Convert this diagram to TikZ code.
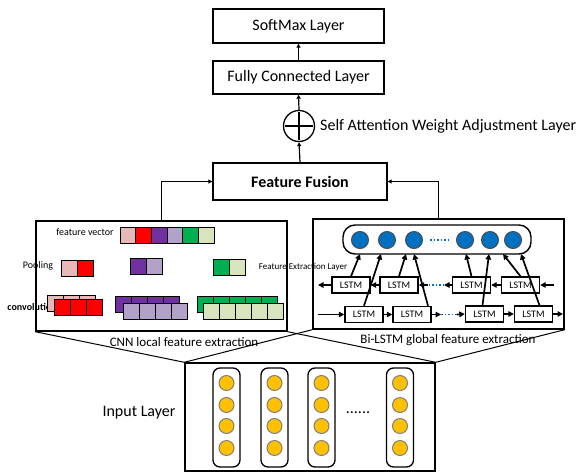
\documentclass[tikz,border=0pt]{standalone}
\usepackage{fontspec}
\setmainfont{Carlito}
\usetikzlibrary{arrows.meta}
\definecolor{cpink}{HTML}{E6B9B8}
\definecolor{cred}{HTML}{FF0000}
\definecolor{cpurple}{HTML}{7030A0}
\definecolor{clpurple}{HTML}{B3A2C7}
\definecolor{cgreen}{HTML}{00B050}
\definecolor{clgreen}{HTML}{D7E4BD}
\definecolor{cblue}{HTML}{0070C0}
\definecolor{corange}{HTML}{FFC000}
\begin{document}
\begin{tikzpicture}[x=1pt,y=-1pt,
  lbl/.style={font=\fontsize{16}{18}\selectfont},
  bigbox/.style={draw, line width=1.4pt, inner sep=0pt, lbl},
  arr/.style={line width=1.2pt, -{Triangle[length=4pt,width=4pt]}},
  larr/.style={line width=1.7pt, -{Triangle[length=5.5pt,width=5.5pt]}},
  cell/.style={draw, line width=1pt},
  lstm/.style={draw, line width=1.4pt, minimum width=38pt, minimum height=16pt, inner sep=0pt, font=\fontsize{10}{12}\selectfont},
  hcirc/.style={circle, draw=black!70, line width=1pt, fill=cblue, minimum size=17pt, inner sep=0pt},
  icirc/.style={circle, draw=gray, line width=1pt, fill=corange, minimum size=15pt, inner sep=0pt},
  colbox/.style={draw, line width=1.3pt, rounded corners=7pt, minimum width=27pt, minimum height=99pt, inner sep=0pt},
  small/.style={font=\fontsize{10}{12}\selectfont, inner sep=0pt},
  funnel/.style={line width=1pt},
  bdots/.style={cblue, line width=1.6pt, dash pattern=on 1.5pt off 2pt},
]
\useasboundingbox (0,0) rectangle (586,474);

% top stack
\node[bigbox, minimum width=171pt, minimum height=34pt] (soft) at (298.5,26) {SoftMax Layer};
\node[bigbox, minimum width=171pt, minimum height=33pt] (fc) at (298.5,77.5) {Fully Connected Layer};
\node[circle, draw, line width=1.3pt, minimum size=31pt, inner sep=0pt] (plus) at (299,126) {};
\draw[line width=1.2pt] ([xshift=2pt]plus.west) -- ([xshift=-2pt]plus.east);
\draw[line width=1.2pt] ([yshift=-2pt]plus.north) -- ([yshift=2pt]plus.south);
\node[lbl, anchor=west, inner sep=0pt] (satt) at (320,126) {Self Attention Weight Adjustment Layer};
\node[bigbox, minimum width=174pt, minimum height=37pt, font=\fontsize{16}{18}\selectfont\bfseries] (ff) at (300,181.5) {Feature Fusion};
\draw[arr] (fc.north) -- (soft.south);
\draw[arr] (plus.north) -- (fc.south);
\draw[arr] (ff.north) -- (plus.south);

% module boxes
\node[draw, line width=1.4pt, minimum width=251pt, minimum height=110pt, inner sep=0pt] (cnn) at (161.5,276) {};
\node[draw, line width=1.4pt, minimum width=251pt, minimum height=110pt, inner sep=0pt] (lstm) at (438.5,274) {};
\draw[arr] (cnn.north) |- (ff.west);
\draw[arr] (lstm.north) |- (ff.east);

% input layer
\node[draw, line width=1.4pt, minimum width=250pt, minimum height=108pt, inner sep=0pt] (inp) at (310,417) {};
\draw[funnel] (cnn.south west) -- (inp.north west);
\draw[funnel] (cnn.south east) -- (inp.north east);
\draw[funnel] (lstm.south west) -- (inp.north west);
\draw[funnel] (lstm.south east) -- (inp.north east);
\node[font=\fontsize{13}{15}\selectfont, inner sep=0pt] (cnnlbl) at (184,342) {CNN local feature extraction};
\node[font=\fontsize{13}{15}\selectfont, inner sep=0pt] (lstmlbl) at (448,340) {Bi-LSTM global feature extraction};
\node[lbl, inner sep=0pt] (inlbl) at (139,413) {Input Layer};
\foreach \x [count=\k] in {226.5,274.5,321.5,400} {
  \node[colbox] (col\k) at (\x,417.5) {};
  \foreach \y [count=\j] in {383,405,426,448}
    \node[icirc] (in\k\j) at (\x,\y) {};
}
\node[lbl, inner sep=0pt] (idots) at (358,413) {......};

% CNN contents
\node[small] (fvlbl) at (85,232) {feature vector};
\foreach \c [count=\i from 0] in {cpink,cred,cpurple,clpurple,cgreen,clgreen}
  \draw[cell, fill=\c] (120+\i*15.7,227) rectangle ++(15.7,16);
\node[small] (poollbl) at (38,266) {Pooling};
\draw[cell, fill=cpink] (61,260) rectangle ++(16,16);
\draw[cell, fill=cred] (77,260) rectangle ++(16,16);
\draw[cell, fill=cpurple] (130,258) rectangle ++(16,16);
\draw[cell, fill=clpurple] (146,258) rectangle ++(16,16);
\draw[cell, fill=cgreen] (213,259) rectangle ++(16,16);
\draw[cell, fill=clgreen] (229,259) rectangle ++(16,16);
\node[font=\fontsize{9}{11}\selectfont, inner sep=0pt] (fel) at (303,267) {Feature Extraction Layer};
\node[small, font=\fontsize{10}{12}\selectfont\bfseries] (convlbl) at (32,307) {convolution};
\foreach \i in {0,1,2} \draw[cell, fill=cpink] (47+\i*16,295) rectangle ++(16,16);
\foreach \i in {0,1,2} \draw[cell, fill=cred] (54+\i*16,299) rectangle ++(16,16);
\foreach \i in {0,...,3} \draw[cell, fill=cpurple] (115+\i*16,296) rectangle ++(16,16);
\foreach \i in {0,...,3} \draw[cell, fill=clpurple] (123+\i*16,303) rectangle ++(16,16);
\foreach \i in {0,...,4} \draw[cell, fill=cgreen] (197+\i*16,296) rectangle ++(16,16);
\foreach \i in {0,...,4} \draw[cell, fill=clgreen] (203+\i*16,303) rectangle ++(16,16);

% Bi-LSTM contents
\node[draw, line width=1.4pt, rounded corners=12pt, minimum width=188pt, minimum height=29pt, inner sep=0pt] (hid) at (437,239.5) {};
\foreach \x [count=\k] in {360,387,414,465,490,513}
  \node[hcirc] (h\k) at (\x,240) {};
\draw[bdots] (430,240) -- (449,240);

\node[lstm] (u1) at (351,285) {LSTM};
\node[lstm] (u2) at (399,285) {LSTM};
\node[lstm] (u3) at (471.5,285) {LSTM};
\node[lstm] (u4) at (520.5,285) {LSTM};
\node[lstm] (l1) at (364,314.5) {LSTM};
\node[lstm] (l2) at (412,314.5) {LSTM};
\node[lstm] (l3) at (484.5,314) {LSTM};
\node[lstm] (l4) at (533.5,314) {LSTM};

\coordinate (ul) at (318,285);
\coordinate (ur) at (554,285);
\coordinate (ud1) at (428,285);
\coordinate (ud2) at (444,285);
\coordinate (ll) at (318,314.5);
\coordinate (lr) at (563,314);
\coordinate (ld1) at (441,314.5);
\coordinate (ld2) at (457,314.5);

\draw[larr] (u1.west) -- (ul);
\draw[larr] (u2.west) -- (u1.east);
\draw[larr] (u3.west) -- (ud2);
\draw[bdots] (ud2) -- (ud1);
\draw[larr] (ud1) -- (u2.east);
\draw[larr] (u4.west) -- (u3.east);
\draw[larr] (ur) -- (u4.east);

\draw[larr] (ll) -- (l1.west);
\draw[larr] (l1.east) -- (l2.west);
\draw[larr] (l2.east) -- (ld1);
\draw[bdots] (ld1) -- (ld2);
\draw[larr] (ld2) -- (l3.west);
\draw[larr] (l3.east) -- (l4.west);
\draw[larr] (l4.east) -- (lr);

\coordinate (t1) at (360,254);
\coordinate (t2) at (381,254);
\coordinate (t3a) at (406,254);
\coordinate (t3b) at (414,254);
\coordinate (t4) at (466,254);
\coordinate (t5a) at (489,254);
\coordinate (t5b) at (503,254);
\coordinate (t6) at (521,254);
\draw[larr] (u1.north) -- (t1);
\draw[larr] (l1.north) -- (t2);
\draw[larr] (u2.north) -- (t3a);
\draw[larr] ([xshift=16pt]l2.north) -- (t3b);
\draw[larr] (u3.north) -- (t4);
\draw[larr] ([xshift=-2pt]l3.north) -- (t5a);
\draw[larr] (u4.north) -- (t5b);
\draw[larr] ([xshift=6pt]l4.north) -- (t6);
\end{tikzpicture}
\end{document}
